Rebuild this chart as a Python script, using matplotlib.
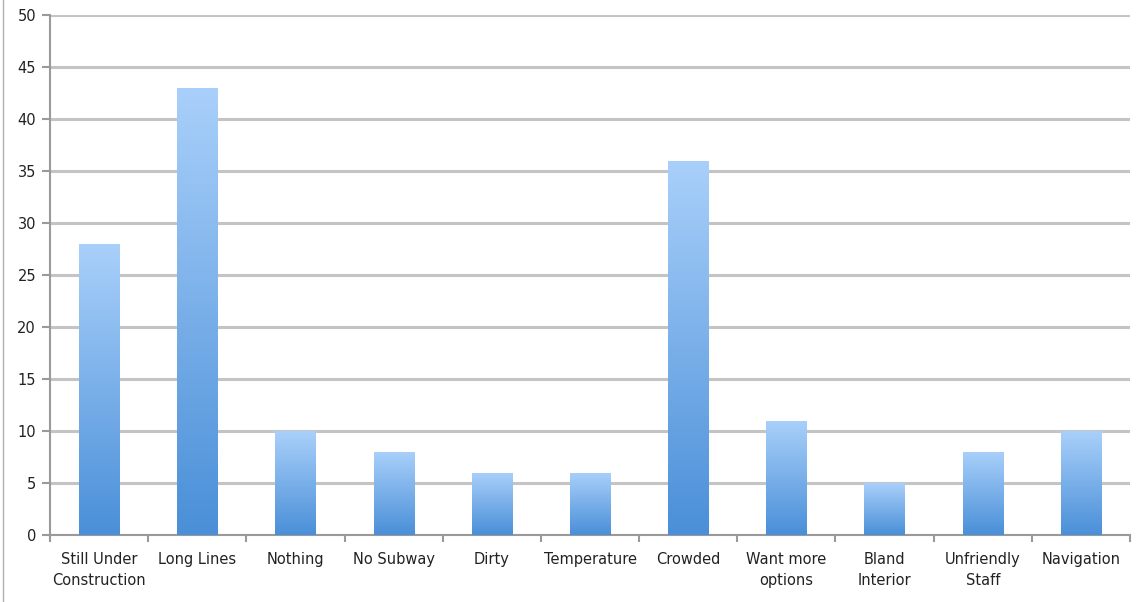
#Bar chart of complaints with Excel-style gradient bars
import numpy as np
import matplotlib
matplotlib.use("Agg")
import matplotlib.pyplot as plt
from matplotlib.colors import LinearSegmentedColormap
from matplotlib.lines import Line2D

#Data
categories = ["Still Under\nConstruction", "Long Lines", "Nothing", "No Subway", "Dirty",
              "Temperature", "Crowded", "Want more\noptions", "Bland\nInterior",
              "Unfriendly\nStaff", "Navigation"]
counts = [28, 43, 10, 8, 6, 6, 36, 11, 5, 8, 10]
y_ticks = [0, 5, 10, 15, 20, 25, 30, 35, 40, 45, 50]

fig = plt.figure(figsize=(11.44, 6.02), dpi=100)
ax = fig.add_axes([50 / 1144, 1 - 535 / 602, 1080 / 1144, 520 / 602])

x = np.arange(len(categories))
bars = ax.bar(x, counts, width=0.41, color="none", zorder=3)

#Gradient fill: dark at the bottom, light at the top of each bar
cmap = LinearSegmentedColormap.from_list("excel_blue", ["#4a8fd8", "#a9d0fa"])
grad = np.linspace(0, 1, 256).reshape(-1, 1)
for bar in bars:
    x0, y0 = bar.get_x(), bar.get_y()
    w, h = bar.get_width(), bar.get_height()
    im = ax.imshow(grad, cmap=cmap, origin="lower", aspect="auto",
                   extent=[x0, x0 + w, y0, y0 + h], zorder=3)
    im.set_clip_path(bar)

ax.set_xlim(-0.5, len(categories) - 0.5)
ax.set_ylim(0, 50)
ax.set_yticks(y_ticks)
ax.set_yticklabels([str(t) for t in y_ticks])

#Grid lines
ax.yaxis.grid(True, color="#c4c4c4", linewidth=2.2, zorder=1)
ax.set_axisbelow(True)

for s in ["top", "right"]:
    ax.spines[s].set_visible(False)
ax.spines["left"].set_color("#9a9a9a")
ax.spines["bottom"].set_color("#9a9a9a")
ax.spines["left"].set_linewidth(1.5)
ax.spines["bottom"].set_linewidth(1.5)

#Category labels between boundary tick marks
ax.set_xticks(np.arange(len(categories) + 1) - 0.5)
ax.set_xticklabels([])
ax.set_xticks(x, minor=True)
ax.set_xticklabels(categories, minor=True, fontsize=10.5, color="#222222",
                   linespacing=1.5)
ax.tick_params(axis="x", which="major", length=5, color="#9a9a9a", width=1.5)
ax.tick_params(axis="x", which="minor", length=0, pad=12)
ax.tick_params(axis="y", length=6, color="#9a9a9a", width=1.5, labelsize=10.5,
               labelcolor="#222222", pad=4)

#Thin frame line at the left edge
fig.add_artist(Line2D([3 / 1144, 3 / 1144], [0, 1], color="#b0b0b0", linewidth=1))

fig.savefig("out.png", dpi=100)
